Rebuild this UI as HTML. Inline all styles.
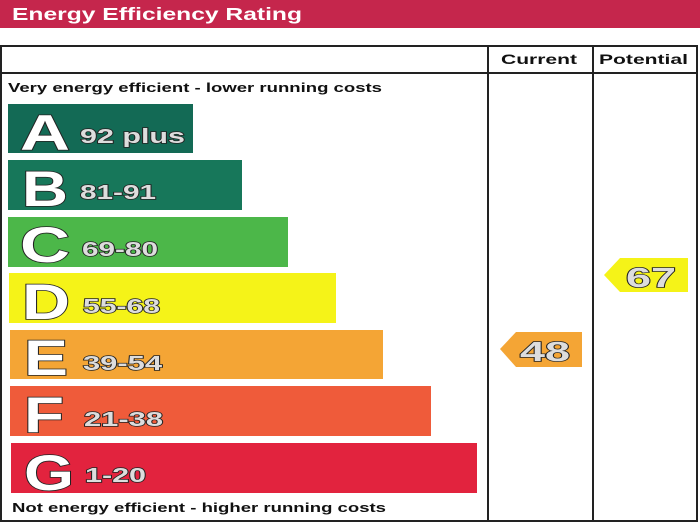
<!DOCTYPE html>
<html><head><meta charset="utf-8"><style>
body{margin:0;background:#fff;width:700px;height:525px;overflow:hidden}
svg{display:block}
.big{font-family:"Liberation Sans",sans-serif;font-weight:bold;fill:#fff;stroke:#222;stroke-width:1.6;paint-order:stroke}
.rng{font-family:"Liberation Sans",sans-serif;font-weight:bold;fill:#ddd;stroke:#222;stroke-width:1.4;paint-order:stroke}
.t{font-family:"Liberation Sans",sans-serif;font-weight:bold;fill:#111}
</style></head><body>
<svg width="700" height="525" xmlns="http://www.w3.org/2000/svg">
<rect x="0" y="0" width="700" height="28" fill="#c5264c"/>
<text x="12" y="20" class="t" style="fill:#fff" font-size="17.5" textLength="290" lengthAdjust="spacingAndGlyphs">Energy Efficiency Rating</text>
<g stroke="#222" stroke-width="2" fill="none">
<rect x="1" y="46" width="696" height="475"/>
<line x1="1" y1="73" x2="697" y2="73"/>
<line x1="488" y1="46" x2="488" y2="521"/>
<line x1="593" y1="46" x2="593" y2="521"/>
</g>
<text x="501" y="64" class="t" font-size="14" textLength="76" lengthAdjust="spacingAndGlyphs">Current</text>
<text x="599" y="64" class="t" font-size="14" textLength="89" lengthAdjust="spacingAndGlyphs">Potential</text>
<text x="8" y="92" class="t" font-size="12.5" textLength="374" lengthAdjust="spacingAndGlyphs">Very energy efficient - lower running costs</text>
<text x="12" y="512" class="t" font-size="12.5" textLength="374" lengthAdjust="spacingAndGlyphs">Not energy efficient - higher running costs</text>
<rect x="8" y="104" width="185" height="49" fill="#136a55"/>
<rect x="8" y="160" width="234" height="50" fill="#17775a"/>
<rect x="8" y="217" width="280" height="50" fill="#4cb749"/>
<rect x="9" y="273" width="327" height="50" fill="#f5f318"/>
<rect x="10" y="330" width="373" height="49" fill="#f4a535"/>
<rect x="10" y="386" width="421" height="50" fill="#ef5b3a"/>
<rect x="11" y="443" width="466" height="50" fill="#e2233e"/>
<g font-size="50">
<text x="20" y="150" class="big" textLength="50" lengthAdjust="spacingAndGlyphs">A</text>
<text x="22" y="206" class="big" textLength="46" lengthAdjust="spacingAndGlyphs">B</text>
<text x="20" y="262" class="big" textLength="50" lengthAdjust="spacingAndGlyphs">C</text>
<text x="22" y="319" class="big" textLength="48" lengthAdjust="spacingAndGlyphs">D</text>
<text x="24" y="375" class="big" textLength="44" lengthAdjust="spacingAndGlyphs">E</text>
<text x="24" y="432" class="big" textLength="40" lengthAdjust="spacingAndGlyphs">F</text>
<text x="24" y="490" class="big" textLength="50" lengthAdjust="spacingAndGlyphs">G</text>
</g>
<g font-size="20">
<text x="80" y="143" class="rng" textLength="105" lengthAdjust="spacingAndGlyphs">92 plus</text>
<text x="80" y="199" class="rng" textLength="76" lengthAdjust="spacingAndGlyphs">81-91</text>
<text x="82" y="256" class="rng" textLength="76" lengthAdjust="spacingAndGlyphs">69-80</text>
<text x="83" y="313" class="rng" textLength="77" lengthAdjust="spacingAndGlyphs">55-68</text>
<text x="83" y="370" class="rng" textLength="79" lengthAdjust="spacingAndGlyphs">39-54</text>
<text x="84" y="426" class="rng" textLength="79" lengthAdjust="spacingAndGlyphs">21-38</text>
<text x="85" y="482" class="rng" textLength="61" lengthAdjust="spacingAndGlyphs">1-20</text>
</g>
<polygon points="604,275 620,258 688,258 688,292 620,292" fill="#f5f318"/>
<text x="626" y="287" class="rng" font-size="28" textLength="50" lengthAdjust="spacingAndGlyphs">67</text>
<polygon points="500,349 516,332 582,332 582,367 516,367" fill="#f4a535"/>
<text x="520" y="361" class="rng" font-size="28" textLength="50" lengthAdjust="spacingAndGlyphs">48</text>
</svg>
</body></html>
